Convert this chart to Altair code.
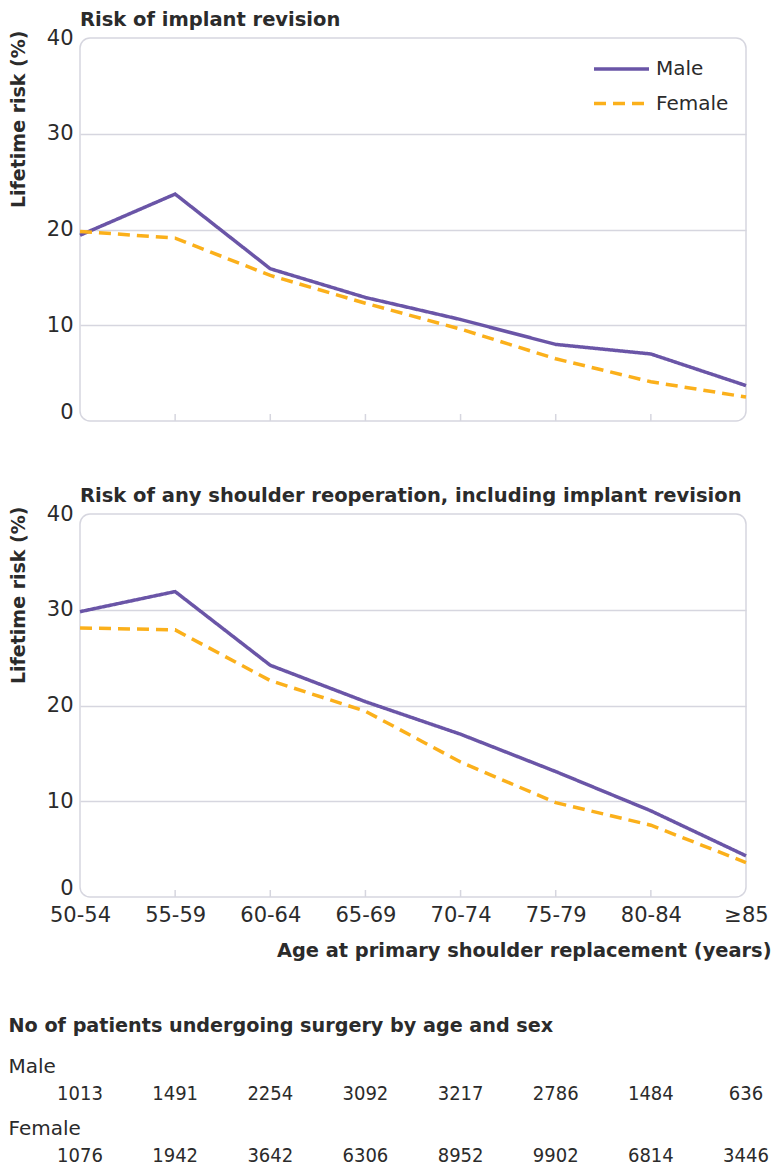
import altair as alt
import pandas as pd

# ---------------- data ----------------
ages = ["50-54", "55-59", "60-64", "65-69", "70-74", "75-79", "80-84", "≥85"]
sexes = ["Male", "Female"]
revision_male = [19.4, 23.7, 15.9, 12.9, 10.6, 8.0, 7.0, 3.7]
revision_female = [19.8, 19.1, 15.2, 12.3, 9.6, 6.5, 4.1, 2.5]
reoperation_male = [29.8, 31.9, 24.2, 20.4, 17.0, 13.1, 9.0, 4.3]
reoperation_female = [28.1, 27.9, 22.6, 19.4, 14.1, 9.85, 7.5, 3.6]
patients_male = [1013, 1491, 2254, 3092, 3217, 2786, 1484, 636]
patients_female = [1076, 1942, 3642, 6306, 8952, 9902, 6814, 3446]
y_ticks = [0, 10, 20, 30, 40]

# ---------------- style ----------------
PURPLE = "#6a55a7"
ORANGE = "#fbb01b"
TEXT = "#2b2b2b"
LINE_GRAY = "#d6d6df"
FONT = "DejaVu Sans"
TABLE_FONT = "DejaVu Sans Condensed, DejaVu Sans"
W, H = 666, 383


def lines_df(m, f):
    return pd.DataFrame({
        "age": ages + ages,
        "sex": ["Male"] * len(ages) + ["Female"] * len(ages),
        "risk": m + f,
    })


ticks_df = pd.DataFrame({"age": ages[1:-1]})
x_scale = alt.Scale(type="point", domain=ages, padding=0)

y_axis = alt.Axis(
    values=y_ticks, title="Lifetime risk (%)",
    titleFont=FONT, titleFontSize=19, titleFontWeight="bold", titleColor=TEXT,
    titleAngle=270, titleAlign="right", titleBaseline="middle",
    titleX=-62, titleY=-8,
    labelFont=FONT, labelFontSize=21, labelColor=TEXT, labelPadding=7,
    labelOffset={"condition": {"test": "datum.value == 0", "value": -9}, "value": 0},
    domain=False, ticks=False,
    gridColor=LINE_GRAY, gridWidth=1.5,
    gridOpacity={"condition": {"test": "datum.value == 0 || datum.value == 40", "value": 0}, "value": 1},
)

legend = alt.Legend(
    title=None, orient="none", legendX=512, legendY=19,
    symbolType="stroke", symbolSize=3025, symbolStrokeWidth=3.5,
    labelFont=FONT, labelFontSize=20, labelColor=TEXT, labelOffset=5,
    clipHeight=24, rowPadding=10.5,
)


def panel(title, m, f, show_x, show_legend):
    if show_x:
        x_axis = alt.Axis(
            title="Age at primary shoulder replacement (years)",
            labelFont=FONT, labelFontSize=21, labelColor=TEXT, labelPadding=7,
            labelAngle=0, ticks=False, tickSize=0, domain=False, grid=False,
            titleFont=FONT, titleFontSize=19.4, titleFontWeight="bold", titleColor=TEXT,
            titleAlign="right", titleBaseline="alphabetic", titleX=W + 25, titleY=59,
        )
    else:
        x_axis = None
    leg = legend if show_legend else None
    x_enc = alt.X("age:N", scale=x_scale, sort=ages, axis=x_axis)
    lines = alt.Chart(lines_df(m, f)).mark_line(strokeWidth=3.5, strokeCap="butt").encode(
        x=x_enc,
        y=alt.Y("risk:Q", scale=alt.Scale(domain=[0, 40]), axis=y_axis),
        color=alt.Color("sex:N", scale=alt.Scale(domain=sexes, range=[PURPLE, ORANGE]), legend=leg),
        strokeDash=alt.StrokeDash("sex:N", scale=alt.Scale(domain=sexes, range=[[1, 0], [12, 7]]), legend=leg),
    )
    ticks = alt.Chart(ticks_df).mark_rule(color=LINE_GRAY, strokeWidth=1.5).encode(
        x=x_enc, y=alt.value(H), y2=alt.value(H - 7)
    )
    return alt.layer(ticks, lines).properties(
        width=W, height=H,
        title=alt.TitleParams(title, anchor="start", frame="group", font=FONT, fontSize=19.5,
                              fontWeight="bold", color=TEXT, offset=-3),
    )


p1 = panel("Risk of implant revision", revision_male, revision_female, False, True)
p2 = panel("Risk of any shoulder reoperation, including implant revision",
           reoperation_male, reoperation_female, True, False)

# ---------------- table ----------------
table_df = pd.DataFrame({
    "age": ages + ages,
    "sex": ["Male"] * len(ages) + ["Female"] * len(ages),
    "n": patients_male + patients_female,
})
labels_df = pd.DataFrame({"sex": sexes})
y_rows = alt.Y("sex:N", scale=alt.Scale(domain=sexes, paddingInner=0, paddingOuter=0), axis=None)

nums = alt.Chart(table_df).mark_text(font=TABLE_FONT, fontSize=20, color=TEXT,
                                     baseline="alphabetic", align="center").encode(
    x=alt.X("age:N", scale=x_scale, sort=ages, axis=None),
    y=y_rows,
    text=alt.Text("n:Q", format="d"),
)
row_labels = alt.Chart(labels_df).mark_text(font=FONT, fontSize=20, color=TEXT,
                                            baseline="alphabetic", align="left", dy=-27).encode(
    x=alt.value(-71.5), y=y_rows, text="sex:N",
)
table = alt.layer(nums, row_labels).properties(
    width=W, height=124,
    view=alt.ViewBackground(strokeOpacity=0),
    title=alt.TitleParams("No of patients undergoing surgery by age and sex", anchor="start",
                          frame="bounds", font=FONT, fontSize=19.2, fontWeight="bold",
                          color=TEXT, offset=21),
)

charts = alt.vconcat(p1, p2, spacing=61).resolve_scale(
    color="independent", strokeDash="independent"
).resolve_legend(color="independent", strokeDash="independent")

chart = alt.vconcat(charts, table, spacing=55).properties(
    padding={"left": 0, "top": 0, "right": 0, "bottom": -4}, background="white"
).configure_view(
    cornerRadius=10, stroke=LINE_GRAY, strokeWidth=1.5
)

chart.save("out.html", embed_options={"renderer": "svg", "actions": False})
